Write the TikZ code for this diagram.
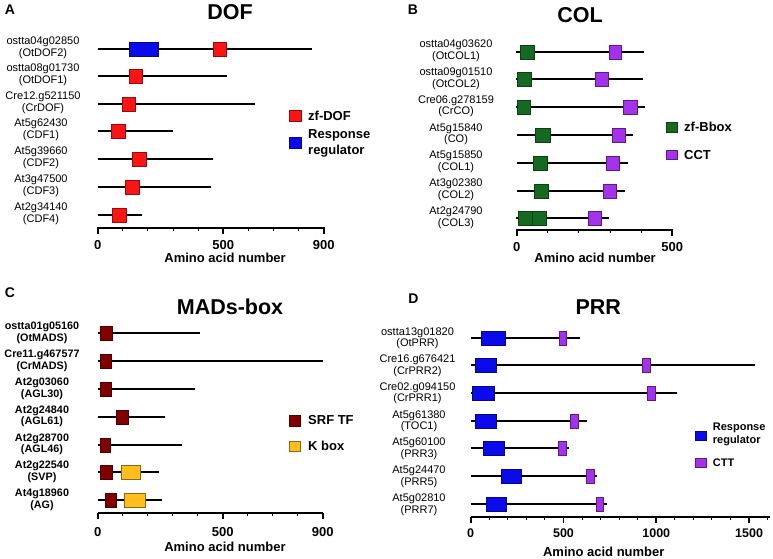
\documentclass[tikz,border=0pt]{standalone}
\usepackage{fontspec}
\setmainfont{Liberation Sans}
\definecolor{dofred}{RGB}{250,20,20}
\definecolor{rrblue}{RGB}{10,10,235}
\definecolor{bboxgreen}{RGB}{22,105,32}
\definecolor{cctpurple}{RGB}{165,50,235}
\definecolor{srfred}{RGB}{128,0,0}
\definecolor{kboxyellow}{RGB}{255,190,30}
\tikzset{
  gene/.style={line width=2pt},
  axisline/.style={line width=1.8pt},
  mtick/.style={line width=1pt},
  dofbox/.style={fill=dofred,draw=dofred!60!black,line width=0.5pt},
  rrbox/.style={fill=rrblue,draw=rrblue!55!black,line width=0.5pt},
  bbbox/.style={fill=bboxgreen,draw=bboxgreen!60!black,line width=0.5pt},
  cctbox/.style={fill=cctpurple,draw=cctpurple!55!black,line width=0.5pt},
  srfbox/.style={fill=srfred,draw=srfred!60!black,line width=0.5pt},
  kbox/.style={fill=kboxyellow,draw=kboxyellow!55!black,line width=0.5pt},
  glab/.style={align=center,inner sep=0pt,font=\fontsize{11}{11.6}\selectfont},
  glabb/.style={glab,font=\fontsize{10.8}{11.8}\selectfont\bfseries},
  ptitle/.style={inner sep=0pt,font=\fontsize{21.5}{24}\selectfont\bfseries},
  panlab/.style={inner sep=0pt,font=\fontsize{14}{16}\selectfont\bfseries},
  ticklab/.style={inner sep=0pt,font=\fontsize{13}{15}\selectfont\bfseries},
  axtitle/.style={inner sep=0pt,font=\fontsize{13}{15}\selectfont\bfseries},
  legtxt/.style={anchor=west,inner sep=0pt,align=left,font=\fontsize{13}{16}\selectfont\bfseries},
  legtxts/.style={legtxt,font=\fontsize{11}{12.7}\selectfont\bfseries}
}
\begin{document}
\begin{tikzpicture}[x=1pt,y=-1pt]
\useasboundingbox (0,0) rectangle (773,559);

%% A: DOF
\node[panlab] (pA) at (10,10) {A};
\node[ptitle] (tA) at (230,12.5) {DOF};
\node[glab] (a1) at (43,47.5) {ostta04g02850\\(OtDOF2)};
\node[glab] (a2) at (43,74.5) {ostta08g01730\\(OtDOF1)};
\node[glab] (a3) at (43,102.5) {Cre12.g521150\\(CrDOF)};
\node[glab] (a4) at (41,129.5) {At5g62430\\(CDF1)};
\node[glab] (a5) at (41,157.5) {At5g39660\\(CDF2)};
\node[glab] (a6) at (41,185.5) {At3g47500\\(CDF3)};
\node[glab] (a7) at (41,213.5) {At2g34140\\(CDF4)};
\begin{scope}[shift={(97.7,0)},x=0.2512pt]
\draw[gene] (0,49)--(854,49);
\draw[rrbox] (126,42) rectangle (241,56);
\draw[dofbox] (458,42) rectangle (511,56);
\draw[gene] (0,76)--(516,76);
\draw[dofbox] (126,69) rectangle (179,83);
\draw[gene] (0,104)--(626,104);
\draw[dofbox] (97,97) rectangle (151,111);
\draw[gene] (0,131)--(301,131);
\draw[dofbox] (53,124) rectangle (109,138);
\draw[gene] (0,159)--(460,159);
\draw[dofbox] (138,152) rectangle (192,166);
\draw[gene] (0,187)--(450,187);
\draw[dofbox] (110,180) rectangle (164,194);
\draw[gene] (0,215)--(175,215);
\draw[dofbox] (57,208) rectangle (113,222);
% axis
\draw[axisline] (0,228)--(900,228);
\foreach \t in {0,500,900} \draw[axisline] (\t,227.3)--(\t,234);
\foreach \t in {100,200,300,400,600,700,800} \draw[mtick] (\t,228)--(\t,231);
\foreach \t in {0,500,900} \node[ticklab] (ta\t) at (\t,245) {\t};
\node[axtitle] (xA) at (507,258) {Amino acid number};
\end{scope}
\draw[dofbox] (289,110.5) rectangle (301,121.5);
\node[legtxt] (lA1) at (308,116) {zf-DOF};
\draw[rrbox] (289,137) rectangle (301,148);
\node[legtxt] (lA2) at (308,143.5) {Response\\regulator};

%% B: COL
\node[panlab] (pB) at (413,10) {B};
\node[ptitle] (tB) at (580,15) {COL};
\node[glab] (b1) at (456,51) {ostta04g03620\\(OtCOL1)};
\node[glab] (b2) at (456,78.5) {ostta09g01510\\(OtCOL2)};
\node[glab] (b3) at (456,106.3) {Cre06.g278159\\(CrCO)};
\node[glab] (b4) at (456,134.1) {At5g15840\\(CO)};
\node[glab] (b5) at (456,161.9) {At5g15850\\(COL1)};
\node[glab] (b6) at (456,189.7) {At3g02380\\(COL2)};
\node[glab] (b7) at (456,217.5) {At2g24790\\(COL3)};
\begin{scope}[shift={(516.7,0)},x=0.3112pt]
\draw[gene] (-3,52)--(409,52);
\draw[bbbox] (11,45) rectangle (56,59);
\draw[cctbox] (297,45) rectangle (337,59);
\draw[gene] (-3,79)--(407,79);
\draw[bbbox] (3,72) rectangle (48,86);
\draw[cctbox] (251,72) rectangle (294,86);
\draw[gene] (-3,107)--(412,107);
\draw[bbbox] (3,100) rectangle (43,114);
\draw[cctbox] (343,100) rectangle (386,114);
\draw[gene] (0,135)--(375,135);
\draw[bbbox] (61,128) rectangle (107,142);
\draw[cctbox] (307,128) rectangle (348,142);
\draw[gene] (0,163)--(358,163);
\draw[bbbox] (53,156) rectangle (98,170);
\draw[cctbox] (287,156) rectangle (328,170);
\draw[gene] (0,191)--(349,191);
\draw[bbbox] (57,184) rectangle (102,198);
\draw[cctbox] (278,184) rectangle (320,198);
\draw[gene] (-3,218)--(296,218);
\draw[bbbox] (5,211) rectangle (50,225);
\draw[bbbox] (50,211) rectangle (94,225);
\draw[cctbox] (230,211) rectangle (271,225);
% axis
\draw[axisline] (0,230)--(500,230);
\foreach \t in {0,500} \draw[axisline] (\t,229.3)--(\t,236);
\foreach \t in {100,200,300,400} \draw[mtick] (\t,230)--(\t,233);
\foreach \t in {0,500} \node[ticklab] (tb\t) at (\t,247) {\t};
\node[axtitle] (xB) at (252,257.7) {Amino acid number};
\end{scope}
\draw[bbbox] (666,122) rectangle (677.5,132);
\node[legtxt] (lB1) at (684,127) {zf-Bbox};
\draw[cctbox] (666,150) rectangle (677.5,159.5);
\node[legtxt] (lB2) at (684,154.8) {CCT};

%% C: MADs-box
\node[panlab] (pC) at (10,293) {C};
\node[ptitle] (tC) at (230,307.3) {MADs-box};
\node[glabb] (c1) at (42,332.9) {ostta01g05160\\(OtMADS)};
\node[glabb] (c2) at (42,360.6) {Cre11.g467577\\(CrMADS)};
\node[glabb] (c3) at (42,388.6) {At2g03060\\(AGL30)};
\node[glabb] (c4) at (42,416.3) {At2g24840\\(AGL61)};
\node[glabb] (c5) at (42,444.3) {At2g28700\\(AGL46)};
\node[glabb] (c6) at (42,471.9) {At2g22540\\(SVP)};
\node[glabb] (c7) at (42,499.6) {At4g18960\\(AG)};
\begin{scope}[shift={(97.7,0)},x=0.25pt]
\draw[gene] (0,333)--(409,333);
\draw[srfbox] (12,326) rectangle (60,340);
\draw[gene] (0,361)--(900,361);
\draw[srfbox] (12,354) rectangle (53,368);
\draw[gene] (0,389)--(391,389);
\draw[srfbox] (12,382) rectangle (54,396);
\draw[gene] (0,417)--(269,417);
\draw[srfbox] (73,410) rectangle (121,424);
\draw[gene] (0,445)--(336,445);
\draw[srfbox] (12,438) rectangle (52,452);
\draw[gene] (0,472)--(246,472);
\draw[srfbox] (12,465) rectangle (60,479);
\draw[kbox] (93,465) rectangle (171,479);
\draw[gene] (0,500)--(258,500);
\draw[srfbox] (29,493) rectangle (76,507);
\draw[kbox] (105,493) rectangle (189,507);
% axis
\draw[axisline] (0,513.3)--(900,513.3);
\foreach \t in {0,500,900} \draw[axisline] (\t,512.6)--(\t,519.3);
\foreach \t in {100,200,300,400,600,700,800} \draw[mtick] (\t,513.3)--(\t,516.3);
\foreach \t in {0,500,900} \node[ticklab] (tc\t) at (\t,532.3) {\t};
\node[axtitle] (xC) at (509,546.7) {Amino acid number};
\end{scope}
\draw[srfbox] (289.3,415) rectangle (300.7,426);
\node[legtxt] (lC1) at (308,420.5) {SRF TF};
\draw[kbox] (289.3,441.3) rectangle (300.7,451);
\node[legtxt] (lC2) at (308,446.2) {K box};

%% D: PRR
\node[panlab] (pD) at (413.3,298.3) {D};
\node[ptitle] (tD) at (598.3,307.3) {PRR};
\node[glab] (d1) at (417.5,338.3) {ostta13g01820\\(OtPRR)};
\node[glab] (d2) at (417.5,365.6) {Cre16.g676421\\(CrPRR2)};
\node[glab] (d3) at (417.5,393.3) {Cre02.g094150\\(CrPRR1)};
\node[glab] (d4) at (419,421.3) {At5g61380\\(TOC1)};
\node[glab] (d5) at (419,448.9) {At5g60100\\(PRR3)};
\node[glab] (d6) at (419,476.6) {At5g24470\\(PRR5)};
\node[glab] (d7) at (419,504.6) {At5g02810\\(PRR7)};
\begin{scope}[shift={(470.7,0)},x=0.1856pt]
\draw[gene] (0,338)--(589,338);
\draw[rrbox] (59,331) rectangle (186,345);
\draw[cctbox] (477,331) rectangle (517,345);
\draw[gene] (0,365)--(1532,365);
\draw[rrbox] (27,358) rectangle (140,372);
\draw[cctbox] (925,358) rectangle (966,372);
\draw[gene] (0,393)--(1113,393);
\draw[rrbox] (9,386) rectangle (126,400);
\draw[cctbox] (951,386) rectangle (993,400);
\draw[gene] (0,421)--(628,421);
\draw[rrbox] (23,414) rectangle (136,428);
\draw[cctbox] (539,414) rectangle (578,428);
\draw[gene] (0,448)--(530,448);
\draw[rrbox] (68,441) rectangle (181,455);
\draw[cctbox] (474,441) rectangle (514,455);
\draw[gene] (0,476)--(679,476);
\draw[rrbox] (163,469) rectangle (275,483);
\draw[cctbox] (625,469) rectangle (664,483);
\draw[gene] (0,504)--(736,504);
\draw[rrbox] (82,497) rectangle (190,511);
\draw[cctbox] (675,497) rectangle (715,511);
% axis
\draw[axisline] (0,517.3)--(1612,517.3);
\foreach \t in {0,500,1000,1500} \draw[axisline] (\t,516.6)--(\t,523.3);
\foreach \t in {100,200,300,400,600,700,800,900,1100,1200,1300,1400,1600} \draw[mtick] (\t,517.3)--(\t,520.3);
\foreach \t in {0,500,1000,1500} \node[ticklab,font=\fontsize{12.5}{15}\selectfont\bfseries] (td\t) at (\t,533.3) {\t};
\node[axtitle] (xD) at (717,551.7) {Amino acid number};
\end{scope}
\draw[rrbox] (695,431.7) rectangle (706,440.5);
\node[legtxts] (lD1) at (712.7,434.7) {Response\\regulator};
\draw[cctbox] (695,458.3) rectangle (706,467);
\node[legtxts] (lD2) at (712.7,462.6) {CTT};
\end{tikzpicture}
\end{document}
